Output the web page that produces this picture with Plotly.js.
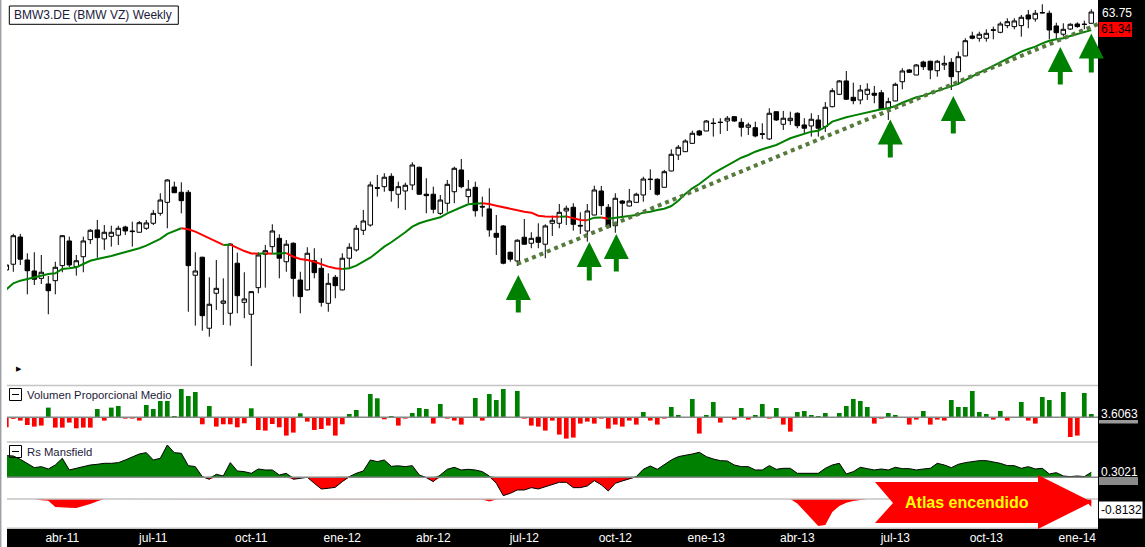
<!DOCTYPE html>
<html><head><meta charset="utf-8">
<script src="https://cdn.plot.ly/plotly-3.0.1.min.js"></script>
<style>html,body{margin:0;padding:0;background:#fff;overflow:hidden}#chart{width:1145px;height:547px}</style>
</head><body><div id="chart"></div>
<script>
// ---------- DATA (weekly candles, BMW3.DE) ----------
const dates = [
'2011-02-04','2011-02-11','2011-02-18','2011-02-25','2011-03-04','2011-03-11','2011-03-18','2011-03-25','2011-04-01','2011-04-08',
'2011-04-15','2011-04-22','2011-04-29','2011-05-06','2011-05-13','2011-05-20','2011-05-27','2011-06-03','2011-06-10','2011-06-17',
'2011-06-24','2011-07-01','2011-07-08','2011-07-15','2011-07-22','2011-07-29','2011-08-05','2011-08-12','2011-08-19','2011-08-26',
'2011-09-02','2011-09-09','2011-09-16','2011-09-23','2011-09-30','2011-10-07','2011-10-14','2011-10-21','2011-10-28','2011-11-04',
'2011-11-11','2011-11-18','2011-11-25','2011-12-02','2011-12-09','2011-12-16','2011-12-23','2011-12-30','2012-01-06','2012-01-13',
'2012-01-20','2012-01-27','2012-02-03','2012-02-10','2012-02-17','2012-02-24','2012-03-02','2012-03-09','2012-03-16','2012-03-23',
'2012-03-30','2012-04-06','2012-04-13','2012-04-20','2012-04-27','2012-05-04','2012-05-11','2012-05-18','2012-05-25','2012-06-01',
'2012-06-08','2012-06-15','2012-06-22','2012-06-29','2012-07-06','2012-07-13','2012-07-20','2012-07-27','2012-08-03','2012-08-10',
'2012-08-17','2012-08-24','2012-08-31','2012-09-07','2012-09-14','2012-09-21','2012-09-28','2012-10-05','2012-10-12','2012-10-19',
'2012-10-26','2012-11-02','2012-11-09','2012-11-16','2012-11-23','2012-11-30','2012-12-07','2012-12-14','2012-12-21','2012-12-28',
'2013-01-04','2013-01-11','2013-01-18','2013-01-25','2013-02-01','2013-02-08','2013-02-15','2013-02-22','2013-03-01','2013-03-08',
'2013-03-15','2013-03-22','2013-03-29','2013-04-05','2013-04-12','2013-04-19','2013-04-26','2013-05-03','2013-05-10','2013-05-17',
'2013-05-24','2013-05-31','2013-06-07','2013-06-14','2013-06-21','2013-06-28','2013-07-05','2013-07-12','2013-07-19','2013-07-26',
'2013-08-02','2013-08-09','2013-08-16','2013-08-23','2013-08-30','2013-09-06','2013-09-13','2013-09-20','2013-09-27','2013-10-04',
'2013-10-11','2013-10-18','2013-10-25','2013-11-01','2013-11-08','2013-11-15','2013-11-22','2013-11-29','2013-12-06','2013-12-13',
'2013-12-20','2013-12-27','2014-01-03','2014-01-10','2014-01-17','2014-01-24'];

const open = [
36.87,37.32,39.54,37.66,36.79,36.22,35.79,36.04,37.21,39.21,
37.13,37.92,39.32,40.14,39.38,39.60,39.69,40.39,40.05,39.94,
40.28,40.71,41.58,42.56,43.97,43.48,43.48,36.46,37.88,32.58,
35.09,34.35,33.63,37.40,34.42,33.56,35.51,38.12,38.74,39.43,
37.52,39.02,36.09,35.34,37.60,37.00,34.35,36.30,35.34,37.80,
38.47,40.11,40.56,43.90,44.00,44.98,43.30,43.60,44.16,45.85,
43.30,43.30,41.58,42.48,43.53,45.59,43.08,43.94,42.20,41.97,
39.85,40.48,38.28,37.58,39.52,39.02,39.52,38.94,40.71,40.71,
41.79,42.12,40.53,40.05,41.43,43.60,42.12,40.50,42.68,42.23,
42.56,43.23,44.72,44.70,43.94,45.49,47.06,47.39,48.24,49.52,
49.52,50.36,50.46,50.58,51.05,50.44,49.91,49.87,49.23,48.69,
51.59,50.23,50.62,51.42,50.16,50.05,50.69,49.98,52.14,53.53,
55.07,53.19,52.89,53.53,53.65,53.71,51.97,52.78,54.98,56.37,
55.77,57.33,57.42,56.28,56.97,57.29,56.16,58.07,60.59,60.29,
60.29,61.39,61.06,61.93,61.80,61.93,63.35,62.81,63.68,63.58,
61.89,60.81,61.49,62.15,62.13,62.24];
const high = [
37.42,39.82,39.80,38.20,38.28,38.06,36.40,37.52,39.71,39.57,
38.06,39.57,40.20,41.00,40.56,40.50,40.50,40.50,40.85,40.91,
41.00,41.88,43.39,44.70,44.47,44.41,43.69,38.28,37.92,36.30,
37.66,36.22,39.00,38.25,36.69,35.26,38.28,38.88,40.62,39.77,
39.29,39.10,36.73,38.69,38.61,37.80,36.61,36.48,38.20,39.02,
40.56,41.88,44.47,45.11,45.27,45.27,44.47,44.37,46.34,45.91,
44.79,44.00,43.23,44.63,45.91,46.66,44.63,44.47,43.08,43.85,
41.43,40.56,38.33,39.35,41.08,39.94,40.71,40.62,41.37,42.41,
42.26,42.48,41.67,42.41,44.09,44.07,42.41,43.39,42.77,43.79,
43.44,44.94,45.65,44.79,45.59,47.63,48.07,48.66,49.55,49.63,
50.69,50.88,50.88,51.12,51.12,50.88,50.40,50.51,50.34,51.97,
51.60,51.67,51.59,51.53,50.88,51.42,51.23,52.66,54.22,55.18,
56.25,54.87,54.60,54.80,54.49,54.02,53.15,54.87,56.57,56.49,
57.09,57.49,57.49,57.58,58.11,57.79,58.60,60.29,61.14,61.14,
61.45,61.80,62.45,62.91,62.91,63.35,64.02,64.02,64.80,63.93,
62.32,62.24,62.24,62.37,62.59,64.12];
const low = [
36.71,36.73,37.26,35.01,35.71,35.79,33.56,35.01,36.69,37.10,
36.43,36.69,38.96,37.84,38.47,38.74,38.88,39.71,38.74,39.92,
40.14,40.56,41.37,40.28,43.40,41.58,33.74,32.76,32.41,32.00,
33.87,32.81,32.76,33.63,33.28,30.07,35.09,35.51,38.20,36.22,
36.73,34.84,33.63,35.30,36.22,34.11,33.74,34.72,35.30,37.05,
38.33,39.71,40.42,43.08,43.53,42.62,42.03,41.88,43.69,43.23,
41.58,41.58,41.43,41.72,42.48,43.85,42.48,41.29,41.29,39.57,
38.06,37.32,37.52,37.18,38.90,38.61,38.61,37.80,39.63,40.28,
40.56,40.08,39.80,39.15,41.40,41.43,40.28,39.90,41.29,42.20,
42.54,42.62,43.69,43.17,43.92,45.46,46.56,47.37,48.17,49.00,
49.50,48.93,49.21,49.52,50.51,48.93,49.10,48.86,48.66,48.58,
50.60,49.63,50.16,49.81,49.21,48.93,48.93,49.41,52.08,53.45,
52.89,52.41,52.41,52.89,52.52,51.83,50.69,52.75,54.11,56.04,
55.75,56.37,55.27,55.57,56.37,54.02,54.60,58.04,60.16,59.86,
59.86,60.16,60.93,61.59,61.45,60.50,61.59,62.45,63.58,60.16,
60.16,60.50,61.36,61.66,61.45,62.22];
const close = [
37.26,39.65,37.72,36.81,36.15,36.69,35.28,37.08,39.65,37.26,
37.60,39.21,40.11,39.49,39.94,39.94,40.28,40.05,40.00,40.76,
40.74,41.58,42.77,44.63,43.44,42.71,37.21,36.79,33.46,34.28,
35.46,34.52,38.96,34.91,34.67,35.21,38.06,38.41,40.05,37.80,
38.94,36.22,34.84,38.20,36.66,34.42,35.84,35.66,37.80,38.69,
40.28,40.91,44.16,43.86,44.89,43.63,44.00,44.13,46.07,43.30,
43.17,41.94,42.77,44.22,45.75,44.00,43.76,41.81,42.14,40.14,
39.52,37.40,37.72,39.27,38.94,39.43,39.10,40.48,40.97,41.67,
42.03,40.62,40.48,41.79,43.69,42.26,40.37,42.93,42.48,42.68,
43.30,44.72,44.67,43.30,45.42,47.13,47.84,48.48,49.28,49.10,
50.58,50.31,50.42,50.88,50.58,49.91,50.16,49.00,49.18,51.42,
50.69,50.88,50.88,50.08,49.81,50.77,49.81,52.08,53.94,55.07,
52.97,52.81,54.02,54.11,53.42,51.86,52.70,54.68,56.25,56.09,
56.97,56.76,56.37,57.42,57.17,55.57,57.98,59.98,60.29,60.81,
60.93,61.33,62.15,62.45,62.55,63.04,62.81,63.58,63.63,61.36,
61.01,61.45,62.11,61.80,62.09,63.75];
// 30-week moving average
const ma30 = [
35.37,35.84,36.04,36.17,36.35,36.48,36.56,36.61,36.95,37.00,
37.08,37.34,37.60,37.74,37.84,37.98,38.14,38.28,38.44,38.61,
38.82,39.07,39.38,39.80,40.05,40.28,40.20,39.99,39.71,39.43,
39.15,38.88,38.90,38.61,38.38,38.18,38.17,38.21,38.17,38.20,
38.22,37.92,37.74,37.66,37.52,37.32,37.13,37.00,36.95,37.00,
37.21,37.52,37.84,38.28,38.74,39.10,39.49,39.94,40.42,40.71,
40.91,41.08,41.23,41.58,41.88,42.12,42.39,42.44,42.48,42.41,
42.26,42.12,41.97,41.81,41.72,41.64,41.37,41.30,41.29,41.27,
41.31,41.15,41.00,40.98,41.20,41.21,41.11,41.20,41.26,41.32,
41.43,41.64,41.72,41.88,41.99,42.23,42.71,43.32,43.85,44.25,
44.79,45.27,45.65,46.01,46.40,46.79,47.06,47.39,47.63,47.84,
48.07,48.41,48.76,49.00,49.21,49.45,49.55,49.94,50.51,50.77,
50.98,51.16,51.34,51.53,51.70,51.86,51.97,52.22,52.58,52.89,
53.19,53.38,53.65,53.91,54.18,54.41,54.72,55.18,55.65,56.04,
56.45,56.88,57.37,57.79,58.19,58.60,58.94,59.23,59.65,59.98,
60.16,60.29,60.59,60.84,61.06,61.34];
// Volumen Proporcional Medio
const volume = [
-1.00,-0.15,-0.33,-0.77,-0.93,-0.83,0.97,-1.03,-1.03,-0.53,
-1.10,-1.03,-1.03,0.83,-0.33,0.97,1.13,-0.13,-0.13,-0.33,
1.23,0.83,1.63,1.63,0.13,2.83,2.13,2.53,-0.70,1.13,
-0.93,-0.70,-0.70,-1.00,-0.60,0.90,-1.27,-1.33,-0.67,-1.00,
-1.83,-1.53,0.40,-0.43,-1.27,-1.17,-0.83,-1.83,-0.70,0.33,
0.73,0,2.33,1.90,-0.20,0.13,-0.83,-0.13,0.43,0.93,
0.83,-0.63,1.33,-0.13,-0.33,-0.73,0,1.93,-0.33,2.33,
1.73,2.83,0,2.63,-0.13,-0.83,-0.93,-1.33,-0.33,-1.73,
-2.13,-2.03,-0.63,-0.43,-0.63,-0.13,-1.13,-0.73,-0.93,-0.33,
-0.73,0.53,-0.33,-0.73,-0.13,1.03,0.23,0,1.83,-1.63,
0.23,1.53,-0.53,0,-0.23,0.93,-0.23,0.23,1.33,-0.13,
0.93,-0.73,-1.43,0.53,0.63,0.23,0.13,0.43,0,0.43,
1.13,1.83,1.63,1.03,-0.63,-0.13,0.43,0.23,0,-0.73,
-0.23,0.63,-0.73,-0.23,-0.33,1.73,1.03,1.03,2.63,0.53,
0.33,-0.23,0.63,-0.33,0,1.53,-0.33,-0.63,2.03,1.73,
0,2.53,-1.97,-1.83,2.43,0.33];
// Rs Mansfield
const rsMansfield = [
1.30,1.28,1.08,0.84,0.58,0.64,0.50,0.74,1.14,0.44,
0.54,0.64,0.74,0.78,0.84,0.84,0.88,1.04,1.20,1.40,
1.48,1.04,1.14,1.94,1.48,1.44,0.70,0.64,0.04,-0.12,
0.18,0.08,0.88,0.38,0.34,0.24,0.50,0.44,0.44,0.14,
0.24,-0.12,-0.06,0.00,-0.36,-0.70,-0.66,-0.60,-0.26,0.04,
0.24,0.38,1.04,0.94,1.04,0.66,0.69,0.64,0.70,0.14,
-0.02,-0.26,0.14,0.48,0.60,0.44,0.48,0.44,0.34,0.08,
-0.36,-1.10,-0.96,-0.76,-0.76,-0.62,-0.70,-0.56,-0.46,-0.30,
-0.30,-0.62,-0.62,-0.52,-0.20,-0.45,-0.82,-0.36,-0.22,-0.10,
0.04,0.48,0.68,0.48,0.74,1.04,1.24,1.30,1.40,1.50,
1.24,1.10,1.00,0.98,0.74,0.64,0.64,0.44,0.44,0.70,
0.48,0.54,0.54,0.24,0.24,0.24,0.24,0.54,0.74,0.84,
0.20,0.34,0.60,0.52,0.44,0.50,0.44,0.60,0.52,0.52,
0.44,0.50,0.54,0.84,0.74,0.58,0.78,0.88,0.94,1.00,
1.00,0.94,0.84,0.70,0.70,0.54,0.64,0.50,0.54,0.20,
0.28,0.08,0.04,0.08,0.04,0.30];
// Atlas (negative-only indicator)
const atlas = [
0,0,0,0,0,-0.13,-0.17,-0.80,-0.80,-0.87,
-0.90,-0.73,-0.50,-0.23,0,0,0,0,0,0,
0,0,0,0,0,0,0,0,0,0,
0,0,0,0,0,0,0,0,0,0,
0,0,0,0,0,0,0,0,0,0,
0,0,0,0,0,0,0,0,0,0,
0,0,0,0,0,0,0,0,-0.05,-0.25,
-0.05,0,0,0,0,0,0,0,0,0,
0,0,0,0,0,0,0,0,0,0,
0,0,0,0,0,0,0,0,0,0,
0,0,0,0,0,0,0,0,0,0,
0,0,0,-0.45,-1.20,-2.00,-2.70,-2.60,-1.30,-0.70,
-0.37,-0.20,-0.10,0,0,0,0,0,0,0,
0,0,0,0,0,0,0,0,0,0,
0,0,0,0,0,0,0,0,0,0,
0,0,0,0,0,-0.81];
// support trend line
const trendDates = ['2012-06-29','2014-01-31'];
const trendPrices = [37.34, 62.15];
// x tick labels
const tickDates = ['2011-04-01','2011-07-01','2011-10-07','2012-01-06','2012-04-06','2012-07-06','2012-10-05','2013-01-04','2013-04-05','2013-07-12','2013-10-11','2014-01-10'];
const tickLabels = ['abr-11','jul-11','oct-11','ene-12','abr-12','jul-12','oct-12','ene-13','abr-13','jul-13','oct-13','ene-14'];
// support signals (arrow dates)
const signalDates = ['2012-06-30','2012-09-09','2012-10-06','2013-07-07','2013-09-08','2013-12-24','2014-01-24'];

// ---------- GEOMETRY HELPERS ----------
const W=1145, H=547, ML=7, MR=47, MB=18, PW=W-ML-MR, PH=H-MB;
const px = x => (x-ML)/PW;
const py = y => 1 - y/PH;
const FONT = 'Liberation Sans, Arial, sans-serif';
const GREEN = '#008000', RED = '#ff0000';

// ---------- TRACES ----------
const traces = [];
traces.push({type:'candlestick', x:dates, open:open, high:high, low:low, close:close,
  xaxis:'x', yaxis:'y', whiskerwidth:0, hoverinfo:'skip',
  increasing:{line:{color:'#000', width:1}, fillcolor:'#fff'},
  decreasing:{line:{color:'#000', width:1}, fillcolor:'#000'}});

// moving average coloured by direction
let segStart = 0;
const dirCol = i => ma30[i] >= ma30[i-1] ? GREEN : RED;
for (let i=1;i<ma30.length;i++){
  const c = dirCol(i);
  if (i===ma30.length-1 || dirCol(i+1)!==c){
    traces.push({type:'scatter', mode:'lines', x:dates.slice(segStart,i+1), y:ma30.slice(segStart,i+1),
      xaxis:'x', yaxis:'y', line:{color:c, width:2}, hoverinfo:'skip'});
    segStart = i;
  }
}
traces.push({type:'scatter', mode:'lines', x:trendDates, y:trendPrices, xaxis:'x', yaxis:'y',
  line:{color:'#557a3c', width:4, dash:'dot'}, hoverinfo:'skip'});

traces.push({type:'bar', x:dates, y:volume, xaxis:'x', yaxis:'y2',
  marker:{color:volume.map(v=>v>=0?GREEN:RED), line:{width:0}}, hoverinfo:'skip'});

traces.push({type:'scatter', mode:'lines', x:dates, y:rsMansfield.map(v=>v>0?v:0), xaxis:'x', yaxis:'y3',
  fill:'tozeroy', fillcolor:GREEN, line:{width:0}, hoverinfo:'skip'});
traces.push({type:'scatter', mode:'lines', x:dates, y:rsMansfield.map(v=>v<0?v:0), xaxis:'x', yaxis:'y3',
  fill:'tozeroy', fillcolor:RED, line:{width:0}, hoverinfo:'skip'});
traces.push({type:'scatter', mode:'lines', x:dates, y:rsMansfield, xaxis:'x', yaxis:'y3',
  line:{color:'#000', width:1}, hoverinfo:'skip'});

traces.push({type:'scatter', mode:'lines', x:dates, y:atlas, xaxis:'x', yaxis:'y4',
  fill:'tozeroy', fillcolor:RED, line:{width:0}, hoverinfo:'skip'});

// ---------- SHAPES ----------
const hline = (y, color) => ({type:'line', xref:'paper', yref:'paper', x0:px(7), x1:px(1098), y0:py(y), y1:py(y), line:{color:color, width:1.5}});
const rect = (x0,y0,x1,y1,fill,lineColor,lw) => ({type:'rect', xref:'paper', yref:'paper', x0:px(x0), x1:px(x1), y0:py(y1), y1:py(y0),
  fillcolor:fill, line:{color:lineColor||fill, width:lw===undefined?0:lw}});
const pathPx = pts => 'M' + pts.map(p => px(p[0]).toFixed(5)+','+py(p[1]).toFixed(5)).join(' L') + ' Z';

const shapes = [
  rect(0,0,7,547,'#fff'),
  {type:'line', xref:'paper', yref:'paper', x0:px(0.7), x1:px(0.7), y0:py(547), y1:1, line:{color:'#a0a0a8', width:1.5}},
  hline(385.5,'#c4c4c4'), hline(417.3,'#888'), hline(442,'#c4c4c4'), hline(477.3,'#888'), hline(499,'#c4c4c4'), hline(528.3,'#c4c4c4'),
  rect(9.3,6,178.3,24.3,'#fff','#000',1),
  rect(9.5,388.5,21.5,400.5,'rgba(0,0,0,0)','#000',1),
  {type:'line', xref:'paper', yref:'paper', x0:px(12), x1:px(19), y0:py(394.5), y1:py(394.5), line:{color:'#000', width:1}},
  rect(9.5,445.5,21.5,457.5,'rgba(0,0,0,0)','#000',1),
  {type:'line', xref:'paper', yref:'paper', x0:px(12), x1:px(19), y0:py(451.5), y1:py(451.5), line:{color:'#000', width:1}},
  rect(1099,22,1132,37,RED),
  rect(1099,420,1138,423.5,'#9a9a9a'),
  rect(1099,477,1138,485,'#8a8a8a'),
  rect(1098.5,501,1143,519,'#fff','#000',1),
  {type:'path', xref:'paper', yref:'paper', fillcolor:RED, line:{width:0},
   path: pathPx([[875,482],[1038,482],[1038,475],[1092,502],[1038,529],[1038,523],[875,523],[893,503]])}
];

// ---------- ANNOTATIONS ----------
const txt = (x,y,text,opt) => Object.assign({xref:'paper', yref:'paper', x:px(x), y:py(y), text:text, showarrow:false,
  xanchor:'left', yanchor:'middle', borderpad:0, borderwidth:0, font:{family:FONT, size:12, color:'#000'}}, opt||{});
const annotations = [
  txt(13.5,15.5,'BMW3.DE (BMW VZ) Weekly',{font:{family:FONT,size:12,color:'#1b1b3b'}}),
  txt(26.5,394.5,'Volumen Proporcional Medio',{font:{family:FONT,size:11.3,color:'#1b1b3b'}}),
  txt(26.5,451.5,'Rs Mansfield',{font:{family:FONT,size:11.3,color:'#1b1b3b'}}),
  txt(15.5,368.5,'▶',{font:{family:'DejaVu Sans',size:7,color:'#000'}}),
  txt(1101.5,12.5,'63.75',{font:{family:FONT,size:12,color:'#fff'}}),
  txt(1100.5,29.5,'61.34',{font:{family:FONT,size:12,color:'#000'}}),
  txt(1101,413.5,'3.6063',{font:{family:FONT,size:12,color:'#fff'}}),
  txt(1101,471.5,'0.3021',{font:{family:FONT,size:12,color:'#fff'}}),
  txt(1100.5,510,'-0.8132',{font:{family:FONT,size:12,color:'#000'}}),
  txt(967,502,'Atlas encendido',{xanchor:'center', font:{family:FONT,size:16,color:'#ffff00',weight:'bold'}})
];
const arrowPx = [[275,314],[242,282],[234,273],[119.5,159],[96,135],[47,86],[33.5,74]];
signalDates.forEach((d,i)=>{
  annotations.push({xref:'x', yref:'paper', x:d, y:py(arrowPx[i][0]), ax:0, ay:arrowPx[i][1]-arrowPx[i][0],
    text:'', showarrow:true, arrowhead:2, arrowsize:1, arrowwidth:5, arrowcolor:GREEN, standoff:0});
});

const hidden = {showgrid:false, zeroline:false, showticklabels:false, showline:false, ticks:'', fixedrange:true};
const layout = {
  width:W, height:H, margin:{l:ML, r:MR, t:0, b:MB, pad:0},
  paper_bgcolor:'#000', plot_bgcolor:'#fff', showlegend:false,
  boxgap:0.2, boxgroupgap:0.2, bargap:0.33,
  xaxis:{type:'date', range:['2011-02-04 16:48','2014-01-30 16:48'], anchor:'y4', showgrid:false, zeroline:false,
    showline:false, ticks:'', tickvals:tickDates, ticktext:tickLabels, tickfont:{family:FONT, size:12, color:'#fff'},
    rangeslider:{visible:false}, fixedrange:true},
  yaxis: Object.assign({type:'log', range:[1.46061,1.81554], domain:[py(385),1], anchor:'x'}, hidden),
  yaxis2: Object.assign({range:[-2.47,3.23], domain:[py(442),py(385)], anchor:'x'}, hidden),
  yaxis3: Object.assign({range:[-1.302,2.118], domain:[py(499),py(442)], anchor:'x'}, hidden),
  yaxis4: Object.assign({range:[-3.0,0], domain:[0,py(499)], anchor:'x'}, hidden),
  shapes:shapes, annotations:annotations
};
Plotly.newPlot('chart', traces, layout, {staticPlot:true, displayModeBar:false});
</script></body></html>
